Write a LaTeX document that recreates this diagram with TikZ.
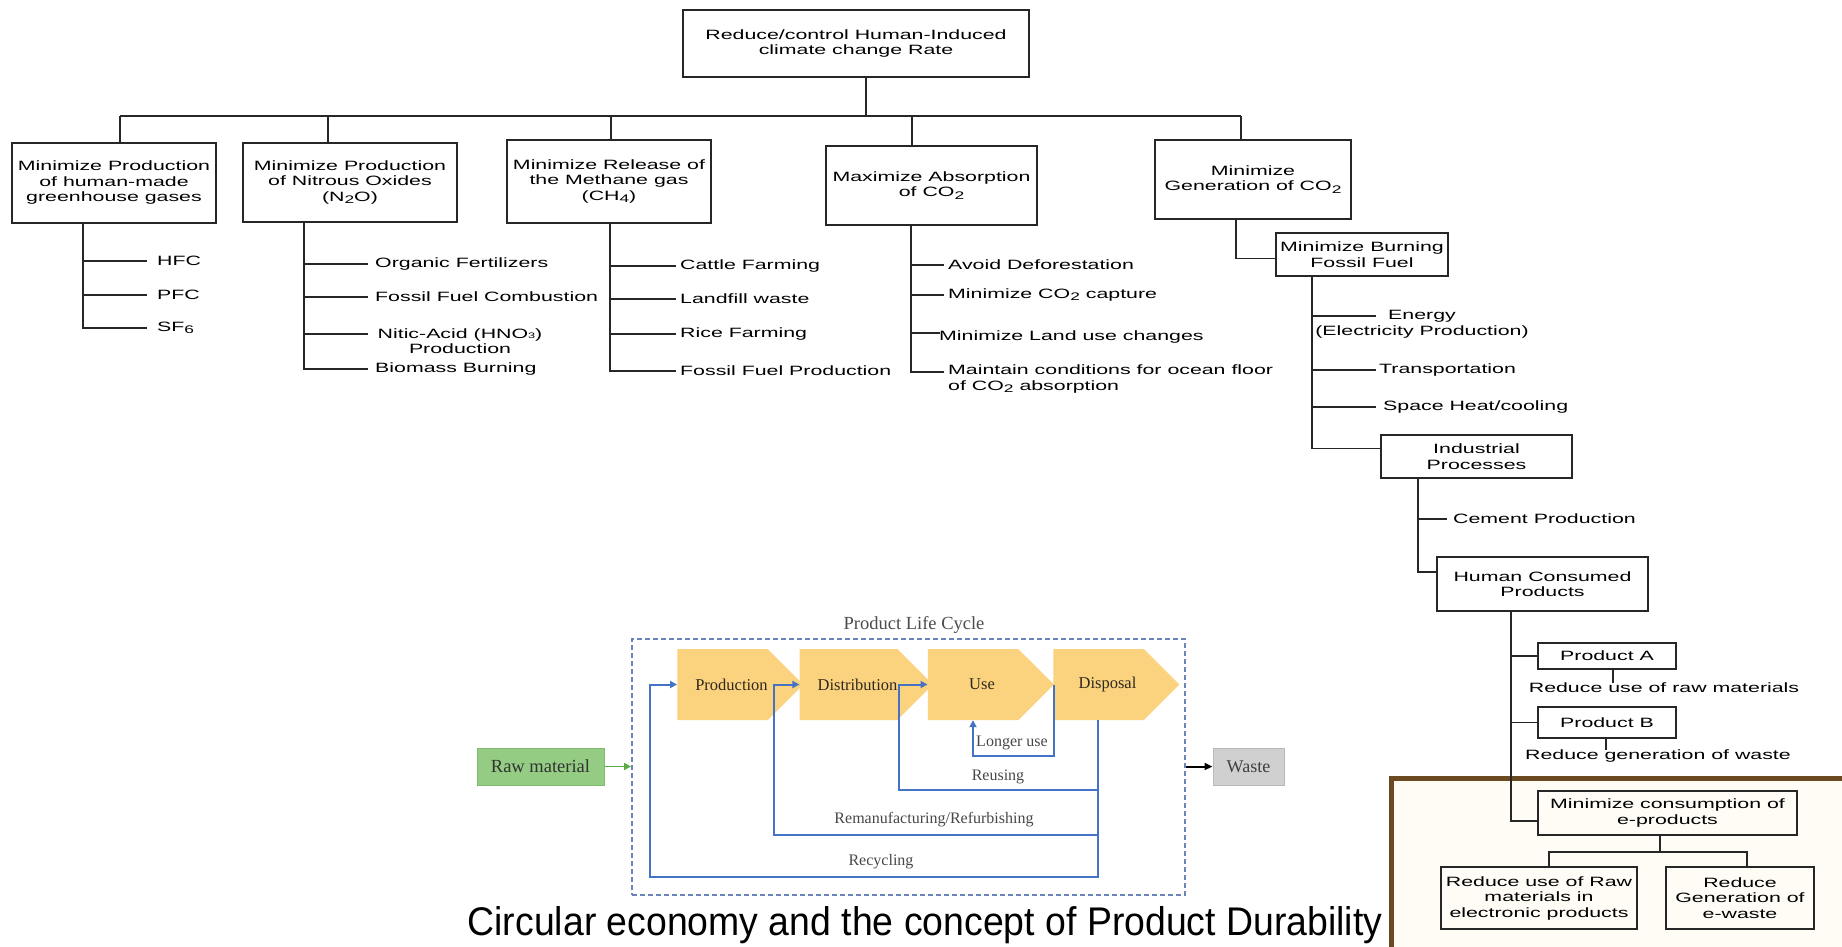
\documentclass[tikz,border=0pt]{standalone}
\usepackage{fontspec}
\usetikzlibrary{arrows.meta,shapes.symbols}

% fonts: wide sans for the tree, serif for the life-cycle inset, narrow sans for the caption
\newfontfamily\treefont[FakeStretch=1.58]{Liberation Sans}
\newfontfamily\capfont[FakeStretch=0.935]{Liberation Sans}
\newfontfamily\lcfont{Liberation Serif}
\newcommand\lowsub[1]{\raisebox{-0.35ex}{\fontsize{11}{11}\selectfont #1}}
\newcommand\tinysub[1]{{\fontsize{8}{8}\selectfont #1}}
% stage labels sit a little right of the body of each chevron
\newcommand\stagetext[1]{\hspace*{18pt}#1}

\definecolor{brownframe}{HTML}{6B4A22}
\definecolor{creamfill}{HTML}{FFFCF6}
\definecolor{chevron}{HTML}{FBD27D}
\definecolor{loopblue}{HTML}{4472C4}
\definecolor{dashblue}{HTML}{6A84B8}
\definecolor{rawgreen}{HTML}{93CC82}
\definecolor{rawedge}{HTML}{7FBA6E}
\definecolor{arrowgreen}{HTML}{5DAA45}
\definecolor{wastegray}{HTML}{D0D0D0}
\definecolor{wasteedge}{HTML}{B8B8B8}
\definecolor{lctext}{HTML}{2E2820}

\tikzset{
  treetext/.style={font={\treefont\fontsize{13.5}{15.5}\selectfont}},
  tbox/.style={treetext, draw=black!85, line width=1.7pt, align=center, inner sep=0pt},
  leaf/.style={treetext, anchor=west, inner sep=0pt},
  tline/.style={line width=1.7pt, draw=black!85},
  stage/.style={signal, signal to=east, signal from=nowhere, fill=chevron, draw=none,
    minimum width=126pt, minimum height=71pt, inner sep=0pt,
    font={\lcfont\fontsize{16.5}{18}\selectfont}, text=lctext},
  looplabel/.style={font={\lcfont\fontsize{16}{18}\selectfont}, text=black!72, inner sep=0pt},
  loopline/.style={draw=loopblue, line width=2pt, -{Triangle[length=7pt,width=7pt]}},
}

\begin{document}
\begin{tikzpicture}[x=1pt,y=-1pt]
\useasboundingbox (0,0) rectangle (1842,946);

% ---------- highlighted e-products panel ----------
\draw[brownframe, fill=creamfill, line width=5pt] (1391,778) rectangle (1875,975);

% ---------- root and first level ----------
\node[tbox, minimum width=346pt, minimum height=67pt] (root) at (856,43.5)
  {Reduce/control Human-Induced\\climate change Rate};
\node[tbox, minimum width=204pt, minimum height=80pt] (g1) at (114,183)
  {Minimize Production\\of human-made\\greenhouse gases};
\node[tbox, minimum width=214pt, minimum height=79pt] (g2) at (350,182.5)
  {Minimize Production\\of Nitrous Oxides\\(N\lowsub{2}O)};
\node[tbox, minimum width=204pt, minimum height=83pt] (g3) at (609,181.5)
  {Minimize Release of\\the Methane gas\\(CH\lowsub{4})};
\node[tbox, minimum width=211pt, minimum height=79pt] (g4) at (931.5,185.5)
  {Maximize Absorption\\of CO\lowsub{2}};
\node[tbox, minimum width=196pt, minimum height=79pt] (g5) at (1253,179.5)
  {Minimize\\Generation of CO\lowsub{2}};

\coordinate (trunk) at (866,116);
\coordinate (busL) at (120,116);
\coordinate (busR) at (1241,116);
\coordinate (d2) at (328,116);
\coordinate (d3) at (611,116);
\coordinate (d4) at (912,116);
\draw[tline] (root.south -| trunk) -- (trunk);
\draw[tline] (busL) -- (busR);
\draw[tline] (busL) -- (busL |- g1.north);
\draw[tline] (d2) -- (d2 |- g2.north);
\draw[tline] (d3) -- (d3 |- g3.north);
\draw[tline] (d4) -- (d4 |- g4.north);
\draw[tline] (busR) -- (busR |- g5.north);

% ---------- greenhouse gases ----------
\coordinate (s1) at (83,0);
\node[leaf] (hfc) at (157,261) {HFC};
\node[leaf] (pfc) at (157,295) {PFC};
\node[leaf] (sf6) at (157,328) {SF\lowsub{6}};
\draw[tline] (g1.south -| s1) |- ([xshift=-10pt]sf6.west);
\draw[tline] (s1 |- hfc.west) -- ([xshift=-10pt]hfc.west);
\draw[tline] (s1 |- pfc.west) -- ([xshift=-10pt]pfc.west);

% ---------- nitrous oxides ----------
\coordinate (s2) at (304,0);
\node[leaf] (orgf) at (375,264) {Organic Fertilizers};
\node[leaf] (ffc) at (375,297) {Fossil Fuel Combustion};
\node[treetext, inner sep=0pt, align=center] (nitric) at (460,341) {Nitic-Acid (HNO\tinysub{3})\\Production};
\node[leaf] (biom) at (375,369) {Biomass Burning};
\coordinate (nitb) at (368,334);
\draw[tline] (g2.south -| s2) |- ([xshift=-7pt]biom.west);
\draw[tline] (s2 |- orgf.west) -- ([xshift=-7pt]orgf.west);
\draw[tline] (s2 |- ffc.west) -- ([xshift=-7pt]ffc.west);
\draw[tline] (s2 |- nitb) -- (nitb);

% ---------- methane ----------
\coordinate (s3) at (610,0);
\node[leaf] (cattle) at (680,266) {Cattle Farming};
\node[leaf] (landf) at (680,299) {Landfill waste};
\node[leaf] (rice) at (680,334) {Rice Farming};
\node[leaf] (ffp) at (680,371) {Fossil Fuel Production};
\draw[tline] (g3.south -| s3) |- ([xshift=-4pt]ffp.west);
\draw[tline] (s3 |- cattle.west) -- ([xshift=-4pt]cattle.west);
\draw[tline] (s3 |- landf.west) -- ([xshift=-4pt]landf.west);
\draw[tline] (s3 |- rice.west) -- ([xshift=-4pt]rice.west);

% ---------- CO2 absorption ----------
\coordinate (s4) at (911,0);
\node[leaf] (defor) at (948,265) {Avoid Deforestation};
\node[leaf] (capt) at (948,295) {Minimize CO\lowsub{2} capture};
\node[leaf] (landuse) at (939,337) {Minimize Land use changes};
\node[leaf, align=left] (ocean) at (948,379) {Maintain conditions for ocean floor\\of CO\lowsub{2} absorption};
\draw[tline] (g4.south -| s4) |- ([xshift=-4pt,yshift=7pt]ocean.west);
\draw[tline] (s4 |- defor.west) -- ([xshift=-4pt]defor.west);
\draw[tline] (s4 |- capt.west) -- ([xshift=-4pt]capt.west);
\draw[tline] (s4 |- landuse.west) ++(0,4pt) -- ([xshift=1pt,yshift=4pt]landuse.west);

% ---------- CO2 generation ----------
\node[tbox, minimum width=172pt, minimum height=43pt] (burn) at (1362,254.5)
  {Minimize Burning\\Fossil Fuel};
\coordinate (s5) at (1236,0);
\draw[tline] (g5.south -| s5) |- ([yshift=-4pt]burn.west);

\coordinate (s6) at (1312,0);
\node[treetext, inner sep=0pt, align=center] (energy) at (1422,324) {Energy\\(Electricity Production)};
\node[leaf] (transp) at (1379,370) {Transportation};
\node[leaf] (space) at (1383,407) {Space Heat/cooling};
\node[tbox, minimum width=191pt, minimum height=43pt] (ind) at (1476.5,456.5)
  {Industrial\\Processes};
\coordinate (enb) at (1376,316);
\draw[tline] (burn.south -| s6) |- ([yshift=8pt]ind.west);
\draw[tline] (s6 |- enb) -- (enb);
\draw[tline] (s6 |- transp.west) -- ([xshift=-3pt]transp.west);
\draw[tline] (s6 |- space.west) -- ([xshift=-7pt]space.west);

\coordinate (s7) at (1418,0);
\node[leaf] (cement) at (1453,519) {Cement Production};
\node[tbox, minimum width=211pt, minimum height=54pt] (hcp) at (1542.5,584)
  {Human Consumed\\Products};
\draw[tline] (ind.south -| s7) |- ([yshift=12pt]hcp.west);
\draw[tline] (s7 |- cement.west) -- ([xshift=-6pt]cement.west);

\coordinate (s8) at (1511,0);
\node[tbox, minimum width=138pt, minimum height=26pt] (proda) at (1607,656) {Product A};
\node[tbox, minimum width=138pt, minimum height=31pt] (prodb) at (1607,722.5) {Product B};
\node[tbox, minimum width=259pt, minimum height=44pt] (mincons) at (1667.5,813)
  {Minimize consumption of\\e-products};
\draw[tline] (hcp.south -| s8) |- ([yshift=-8pt]mincons.west);
\draw[tline] (s8 |- proda.west) -- (proda.west);
\draw[tline] (s8 |- prodb.west) -- (prodb.west);

\node[treetext, inner sep=0pt] (rawa) at (1664,688) {Reduce use of raw materials};
\node[treetext, inner sep=0pt] (wasteb) at (1658,756) {Reduce generation of waste};
\coordinate (ta) at (1613,0);
\coordinate (tb) at (1606,0);
\draw[tline, line width=1.4pt] (proda.south -| ta) -- (ta |- rawa.north);
\draw[tline, line width=1.4pt] (prodb.south -| tb) -- (tb |- wasteb.north);

% ---------- e-products ----------
\node[tbox, line width=1.5pt, minimum width=196pt, minimum height=62pt] (eraw) at (1539,898)
  {Reduce use of Raw\\materials in\\electronic products};
\node[tbox, line width=1.5pt, minimum width=148pt, minimum height=62pt] (ewaste) at (1740,898)
  {Reduce\\Generation of\\e-waste};
\coordinate (mstem) at (1660,852);
\coordinate (ml) at (1549,852);
\coordinate (mr) at (1747,852);
\draw[tline] (mincons.south -| mstem) -- (mstem);
\draw[tline] (ml |- eraw.north) -- (ml) -- (mr) -- (mr |- ewaste.north);

% ---------- product life cycle ----------
\node[draw=dashblue, line width=2pt, dash pattern=on 5pt off 3pt,
      minimum width=553pt, minimum height=256pt, inner sep=0pt] (lcframe) at (908.5,767) {};
\node[font={\lcfont\fontsize{18.5}{20}\selectfont}, text=black!70, inner sep=0pt] (lctitle) at (914,625) {Product Life Cycle};

\node[stage] (prod) at (722.5,684.5) {\stagetext{Production}};
\node[stage] (dist) at (848.5,684.5) {\stagetext{Distribution}};
\node[stage] (use)  at (973,684.5) {\stagetext{Use}};
\node[stage] (disp) at (1098.5,684.5) {\stagetext{Disposal}};

\coordinate (dv) at (1098,0);
\coordinate (recy) at (650,877);
\coordinate (reman) at (774,835);
\coordinate (reuse) at (899,790);
\coordinate (lu) at (973,756);
\draw[loopline] (disp.south -| dv) -- (dv |- recy) -- (recy) |- (prod.west);
\draw[loopline] (dv |- reman) -- (reman) |- (dist.west);
\draw[loopline] (dv |- reuse) -- (reuse) |- (use.west);
\draw[loopline] (use.east) |- (lu) -- (lu |- use.south);

\node[looplabel] (lulab) at (1012,743) {Longer use};
\node[looplabel] (rulab) at (998,777) {Reusing};
\node[looplabel] (rmlab) at (934,820) {Remanufacturing/Refurbishing};
\node[looplabel] (rclab) at (881,862) {Recycling};

\node[draw=rawedge, fill=rawgreen, line width=1pt, minimum width=127pt, minimum height=37pt,
      inner sep=0pt, font={\lcfont\fontsize{18.5}{20}\selectfont}, text=black!80] (raw) at (540.5,766.5) {Raw material};
\node[draw=wasteedge, fill=wastegray, line width=1pt, minimum width=71pt, minimum height=37pt,
      inner sep=0pt, font={\lcfont\fontsize{18}{20}\selectfont}, text=black!75] (waste) at (1248.5,766.5) {Waste};
\draw[arrowgreen, line width=1.8pt, -{Triangle[length=7pt,width=7pt]}] (raw.east) -- (raw.east -| lcframe.west);
\draw[black, line width=2pt, -{Triangle[length=8pt,width=7pt]}] (waste.west -| lcframe.east) -- (waste.west);

\node[font={\capfont\fontsize{40}{44}\selectfont}, inner sep=0pt] (caption) at (925,925)
  {Circular economy and the concept of Product Durability};
\end{tikzpicture}
\end{document}
